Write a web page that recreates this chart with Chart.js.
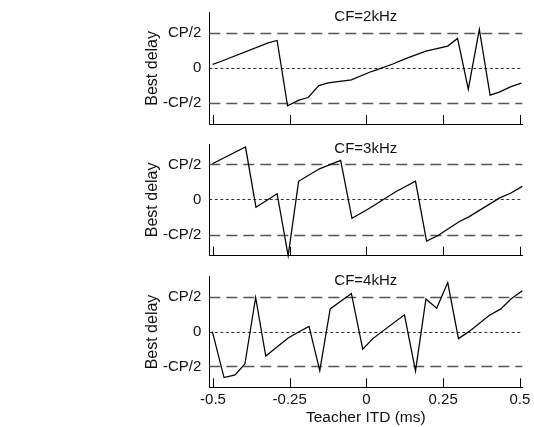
<!DOCTYPE html>
<html><head><meta charset="utf-8">
<script src="https://cdn.jsdelivr.net/npm/chart.js@4/dist/chart.umd.min.js"></script>
<style>
html,body{margin:0;padding:0;background:#fff;}
#wrap{position:relative;width:534px;height:427px;overflow:hidden;}
canvas{position:absolute;left:0;top:0;}
</style></head><body>
<div id="wrap">
<canvas id="c1" width="534" height="427"></canvas>
<canvas id="c2" width="534" height="427"></canvas>
<canvas id="c3" width="534" height="427"></canvas>
</div>
<script>
// ---------- data (Best delay in units of CP, Teacher ITD in ms) ----------
const panelTitles = ['CF=2kHz', 'CF=3kHz', 'CF=4kHz'];

const itd2k = [-0.501,-0.477,-0.320,-0.291,-0.257,-0.220,-0.190,-0.155,-0.125,-0.049,0.010,0.026,0.086,0.130,0.194,0.265,0.297,0.332,0.368,0.403,0.433,0.471,0.505];
const bd2k  = [0.053,0.089,0.359,0.393,-0.540,-0.459,-0.422,-0.251,-0.213,-0.170,-0.061,-0.038,0.057,0.138,0.241,0.313,0.422,-0.303,0.550,-0.388,-0.345,-0.266,-0.217];

const itd3k = [-0.502,-0.394,-0.360,-0.291,-0.255,-0.221,-0.153,-0.084,-0.047,0.010,0.097,0.160,0.196,0.232,0.302,0.335,0.433,0.471,0.508];
const bd3k  = [0.509,0.747,-0.109,0.082,-0.800,0.259,0.437,0.556,-0.267,-0.124,0.115,0.259,-0.593,-0.517,-0.316,-0.244,0.020,0.092,0.187];

const itd4k = [-0.502,-0.464,-0.428,-0.396,-0.361,-0.328,-0.255,-0.221,-0.187,-0.152,-0.118,-0.049,-0.012,0.021,0.124,0.160,0.194,0.229,0.265,0.300,0.335,0.400,0.438,0.471,0.508];
const bd4k  = [0.000,-0.660,-0.622,-0.465,0.492,-0.351,-0.091,-0.006,0.075,-0.560,0.327,0.549,-0.252,-0.100,0.242,-0.565,0.469,0.336,0.706,-0.100,0.004,0.232,0.327,0.469,0.587];

const xTickValues = [-0.5, -0.25, 0, 0.25, 0.5];
const xTickLabels = ['-0.5', '-0.25', '0', '0.25', '0.5'];
const yTickValues = [-0.5, 0, 0.5];
const yTickLabels = ['-CP/2', '0', 'CP/2'];
const refLevels   = [0.5, 0, -0.5];

// ---------- layout / style ----------
const FONT = "'Liberation Sans', Arial, sans-serif";
const TXT = '#111';
const panelTops    = [12.7, 144, 276.7];
const panelBottoms = [124, 255.7, 387.3];
const plotLeft = 209.3, plotRight = 522.3, yTitleLeft = 143;

const decor = {
  id: 'decor',
  beforeDatasetsDraw(chart) {
    const {ctx, chartArea: a, scales: {y}} = chart;
    ctx.save();
    refLevels.forEach(v => {
      const py = Math.round(y.getPixelForValue(v)) + 0.5;
      if (v === 0) { ctx.setLineDash([3, 2.5]); ctx.strokeStyle = '#333'; ctx.lineWidth = 1; }
      else { ctx.setLineDash([11, 6]); ctx.strokeStyle = '#555'; ctx.lineWidth = 1.5; }
      ctx.beginPath(); ctx.moveTo(a.left, py); ctx.lineTo(a.right, py); ctx.stroke();
    });
    ctx.restore();
  },
  afterDraw(chart, args, opts) {
    const {ctx, chartArea: a, scales: {x}} = chart;
    ctx.save();
    ctx.strokeStyle = '#000'; ctx.lineWidth = 1; ctx.setLineDash([]);
    ctx.beginPath();
    xTickValues.forEach(v => {
      const px = Math.round(x.getPixelForValue(v)) + 0.5;
      ctx.moveTo(px, a.bottom); ctx.lineTo(px, a.bottom - 9);
    });
    ctx.stroke();
    ctx.fillStyle = TXT;
    ctx.font = '15px ' + FONT;
    ctx.textAlign = 'center'; ctx.textBaseline = 'alphabetic';
    ctx.fillText(opts.title, (a.left + a.right) / 2, a.top + 8.5);
    ctx.restore();
  }
};

function makePanel(id, idx, xs, ys, showX) {
  const top = panelTops[idx], bottom = panelBottoms[idx];
  return new Chart(document.getElementById(id), {
    type: 'line',
    data: {
      datasets: [{
        data: xs.map((v, i) => ({x: v, y: ys[i]})),
        borderColor: '#000', borderWidth: 1.25, pointRadius: 0, tension: 0,
        fill: false, clip: false
      }]
    },
    options: {
      responsive: false, animation: false, devicePixelRatio: 1,
      layout: {padding: {left: yTitleLeft, top: top, right: 534 - plotRight, bottom: 0}},
      plugins: {legend: {display: false}, tooltip: {enabled: false}, decor: {title: panelTitles[idx]}},
      scales: {
        x: {
          type: 'linear', min: -0.512, max: 0.508,
          afterBuildTicks: s => { s.ticks = xTickValues.map(v => ({value: v})); },
          afterFit: s => { s.height = 427 - bottom; s.paddingLeft = 0; s.paddingRight = 0; },
          grid: {display: false, drawTicks: false},
          border: {display: true, color: '#000', width: 1},
          ticks: {display: showX, padding: 4, color: TXT, font: {family: FONT, size: 15},
                  maxRotation: 0, autoSkip: false, callback: (v, i) => xTickLabels[i]},
          title: {display: showX, text: 'Teacher ITD (ms)', color: TXT, padding: 0,
                  font: {family: FONT, size: 15.5, lineHeight: 1.2}}
        },
        y: {
          type: 'linear', min: -0.8, max: 0.79,
          afterBuildTicks: s => { s.ticks = yTickValues.map(v => ({value: v})); },
          afterFit: s => { s.width = plotLeft - yTitleLeft; s.paddingTop = 0; s.paddingBottom = 0; },
          grid: {display: false, drawTicks: false},
          border: {display: true, color: '#000', width: 1},
          ticks: {padding: 8, color: TXT, font: {family: FONT, size: 15},
                  autoSkip: false, callback: (v, i) => yTickLabels[i]},
          title: {display: true, text: 'Best delay', color: TXT, padding: 0,
                  font: {family: FONT, size: 16, lineHeight: 1.2}}
        }
      }
    },
    plugins: [decor]
  });
}

makePanel('c1', 0, itd2k, bd2k, false);
makePanel('c2', 1, itd3k, bd3k, false);
makePanel('c3', 2, itd4k, bd4k, true);
</script>
</body></html>
